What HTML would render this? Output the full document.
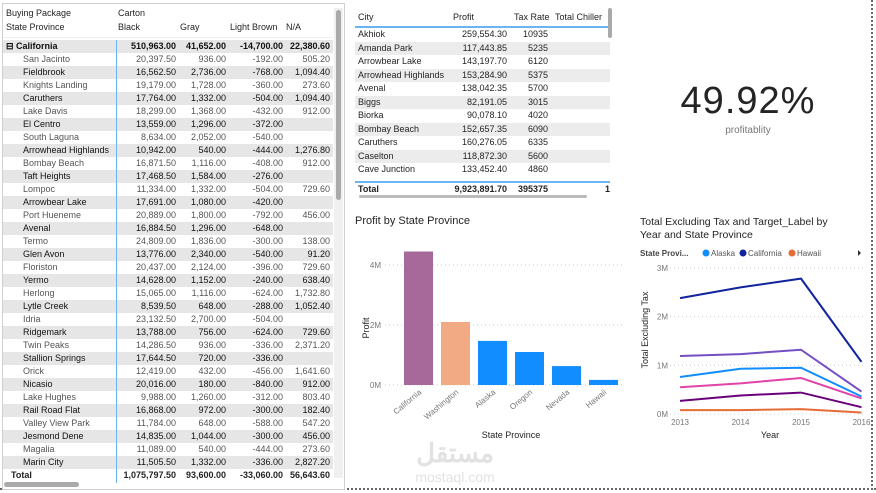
<!DOCTYPE html>
<html><head><meta charset="utf-8">
<style>
body{margin:0;width:876px;height:493px;background:#fff;position:relative;overflow:hidden;font-family:"Liberation Sans",sans-serif;color:#252423}
.abs{position:absolute}
#lt{left:2px;top:3px;width:341px;height:485px;border:1px solid #d0d0d0;background:#fff}
.r{position:absolute;left:0;width:330px;height:13px;font-size:9px;line-height:13px;white-space:nowrap}
.r span{position:absolute;top:0}
.c0{left:3px}.c1{right:157px}.c2{right:107px}.c3{right:50px}.c4{right:3px}
.tr{position:absolute;left:0;width:255px;height:13.5px;font-size:9px;line-height:13.5px;white-space:nowrap}
.tr span{position:absolute;top:0}
.t0{left:3px}.t1{right:103px}.t2{right:62px}
</style></head><body>
<div class="abs" style="left:0;top:488px;width:876px;height:0;border-top:2px dotted #666"></div>
<div class="abs" style="left:871px;top:0;width:0;height:490px;border-left:2px dotted #666"></div>

<div id="lt" class="abs"></div>

<div id="tt" class="abs" style="left:355px;top:5px;width:258px;height:192px;background:#fff"></div>

<div class="abs" style="left:640px;top:80px;width:216px;text-align:center;font-size:38px;letter-spacing:1px;color:#252423">49.92%</div>
<div class="abs" style="left:640px;top:125px;width:216px;text-align:center;font-size:10px;color:#777">profitablity</div>

<svg class="abs" style="left:345px;top:200px" width="285" height="290">
<text x="10" y="24" font-size="11" fill="#252423">Profit by State Province</text>
<g id="bars"></g>
<text x="-128" y="24" transform="rotate(-90)" font-size="9" fill="#252423" text-anchor="middle">Profit</text>
<text x="166" y="238" font-size="9" fill="#252423" text-anchor="middle">State Province</text>
<text x="110" y="262" font-size="26" font-weight="bold" fill="#e2e2e2" text-anchor="middle">مستقل</text>
<text x="110" y="282" font-size="14" fill="#e2e2e2" text-anchor="middle">mostaql.com</text>
</svg>

<svg class="abs" style="left:630px;top:205px" width="240" height="240">
<text x="10" y="20" font-size="10.5" fill="#252423">Total Excluding Tax and Target_Label by</text>
<text x="10" y="33" font-size="10.5" fill="#252423">Year and State Province</text>
<g font-size="8">
<text x="10" y="51" fill="#444" font-weight="bold">State Provi...</text>
<circle cx="76" cy="48" r="3.5" fill="#118dff"/><text x="81" y="51" fill="#555">Alaska</text>
<circle cx="113" cy="48" r="3.5" fill="#12239e"/><text x="118" y="51" fill="#555">California</text>
<circle cx="162" cy="48" r="3.5" fill="#e66c37"/><text x="167" y="51" fill="#555">Hawaii</text>
<path d="M228 45 l3 3 -3 3z" fill="#333"/>
</g>
<g id="lines"></g>
<text x="-125" y="18" transform="rotate(-90)" font-size="9" fill="#252423" text-anchor="middle">Total Excluding Tax</text>
<text x="140" y="233" font-size="9" fill="#252423" text-anchor="middle">Year</text>
</svg>

<script>
const ltRows=[["California","510,963.00","41,652.00","-14,700.00","22,380.60"],
["San Jacinto","20,397.50","936.00","-192.00","505.20"],["Fieldbrook","16,562.50","2,736.00","-768.00","1,094.40"],
["Knights Landing","19,179.00","1,728.00","-360.00","273.60"],["Caruthers","17,764.00","1,332.00","-504.00","1,094.40"],
["Lake Davis","18,299.00","1,368.00","-432.00","912.00"],["El Centro","13,559.00","1,296.00","-372.00",""],
["South Laguna","8,634.00","2,052.00","-540.00",""],["Arrowhead Highlands","10,942.00","540.00","-444.00","1,276.80"],
["Bombay Beach","16,871.50","1,116.00","-408.00","912.00"],["Taft Heights","17,468.50","1,584.00","-276.00",""],
["Lompoc","11,334.00","1,332.00","-504.00","729.60"],["Arrowbear Lake","17,691.00","1,080.00","-420.00",""],
["Port Hueneme","20,889.00","1,800.00","-792.00","456.00"],["Avenal","16,884.50","1,296.00","-648.00",""],
["Termo","24,809.00","1,836.00","-300.00","138.00"],["Glen Avon","13,776.00","2,340.00","-540.00","91.20"],
["Floriston","20,437.00","2,124.00","-396.00","729.60"],["Yermo","14,628.00","1,152.00","-240.00","638.40"],
["Herlong","15,065.00","1,116.00","-624.00","1,732.80"],["Lytle Creek","8,539.50","648.00","-288.00","1,052.40"],
["Idria","23,132.50","2,700.00","-504.00",""],["Ridgemark","13,788.00","756.00","-624.00","729.60"],
["Twin Peaks","14,286.50","936.00","-336.00","2,371.20"],["Stallion Springs","17,644.50","720.00","-336.00",""],
["Orick","12,419.00","432.00","-456.00","1,641.60"],["Nicasio","20,016.00","180.00","-840.00","912.00"],
["Lake Hughes","9,988.00","1,260.00","-312.00","803.40"],["Rail Road Flat","16,868.00","972.00","-300.00","182.40"],
["Valley View Park","11,784.00","648.00","-588.00","547.20"],["Jesmond Dene","14,835.00","1,044.00","-300.00","456.00"],
["Magalia","11,089.00","540.00","-444.00","273.60"],["Marin City","11,505.50","1,332.00","-336.00","2,827.20"]];
const ttRows=[["Akhiok","259,554.30","10935"],["Amanda Park","117,443.85","5235"],["Arrowbear Lake","143,197.70","6120"],
["Arrowhead Highlands","153,284.90","5375"],["Avenal","138,042.35","5700"],["Biggs","82,191.05","3015"],["Biorka","90,078.10","4020"],
["Bombay Beach","152,657.35","6090"],["Caruthers","160,276.05","6335"],["Caselton","118,872.30","5600"],["Cave Junction","133,452.40","4860"]];
const barCats=["California","Washington","Alaska","Oregon","Nevada","Hawaii"];
const barVals=[4.45,2.1,1.47,1.1,0.63,0.17];
const barTicks=[0,2,4];
const barColors=["#a66999","#f2aa85","#118dff","#118dff","#118dff","#118dff"];
const years=["2013","2014","2015","2016"];
const lineTicks=[0,1,2,3];
const sCalifornia=[2.38,2.6,2.78,1.07];
const sPurple=[1.19,1.23,1.32,0.46];
const sAlaska=[0.76,0.93,0.95,0.36];
const sPink=[0.55,0.63,0.74,0.32];
const sDark=[0.27,0.38,0.44,0.14];
const sHawaii=[0.08,0.08,0.1,0.03];

const NS="http://www.w3.org/2000/svg";
function mk(tag,attrs,parent){const e=document.createElementNS(NS,tag);for(const k in attrs)e.setAttribute(k,attrs[k]);parent.appendChild(e);return e;}

// left matrix
const lt=document.getElementById('lt');
let h='<div class="r" style="top:3px;height:14px"><span class="c0">Buying Package</span><span style="left:115px">Carton</span></div>';
h+='<div class="r" style="top:17px;height:16px;border-bottom:1px solid #eee"><span class="c0">State Province</span><span style="left:115px">Black</span><span style="left:177px">Gray</span><span style="left:227px">Light Brown</span><span style="left:283px">N/A</span></div>';
lt.innerHTML=h;
ltRows.forEach((r,i)=>{const d=document.createElement('div');d.className='r';
d.style.top=(36+i*13)+'px';d.style.background=i%2==0?'#e6e6e6':'#fff';
if(i%2==0)d.style.color='#111';else d.style.color='#555';


const bold=i==0?'font-weight:bold;':'';
d.innerHTML='<span class="c0" style="'+bold+(i==0?'':'left:20px')+'">'+(i==0?'⊟ ':'')+r[0]+'</span><span class="c1" style="'+bold+'">'+r[1]+'</span><span class="c2" style="'+bold+'">'+r[2]+'</span><span class="c3" style="'+bold+'">'+r[3]+'</span><span class="c4" style="'+bold+'">'+r[4]+'</span>';
lt.appendChild(d);});
const tot=document.createElement('div');tot.className='r';tot.style.top='465px';tot.style.fontWeight='bold';


tot.innerHTML='<span class="c0" style="left:8px">Total</span><span class="c1">1,075,797.50</span><span class="c2">93,600.00</span><span class="c3">-33,060.00</span><span class="c4">56,643.60</span>';
lt.appendChild(tot);
const vl=document.createElement('div');vl.className='abs';vl.style.cssText='left:113px;top:36px;width:1px;height:443px;background:#6ab4f5';


lt.appendChild(vl);
const sb=document.createElement('div');sb.className='abs';sb.style.cssText='left:331px;top:4px;width:9px;height:470px;background:#f0f0f0';


sb.innerHTML='<div style="position:absolute;left:2px;top:2px;width:5px;height:190px;background:#aaa;border-radius:3px"></div>';
lt.appendChild(sb);
const hs=document.createElement('div');hs.className='abs';hs.style.cssText='left:1px;top:478px;width:75px;height:5px;background:#aaa;border-radius:3px';


lt.appendChild(hs);

// top table
const tt=document.getElementById('tt');
let th='<div class="tr" style="top:3px;height:18px;line-height:18px;border-bottom:2px solid #6ab4f5"><span class="t0">City</span><span style="left:98px">Profit</span><span style="left:159px">Tax Rate</span><span style="left:200px">Total Chiller</span></div>';
tt.innerHTML=th;
ttRows.forEach((r,i)=>{const d=document.createElement('div');d.className='tr';
d.style.top=(23+i*13.5)+'px';d.style.background=i%2==1?'#ececec':'#fff';


d.innerHTML='<span class="t0">'+r[0]+'</span><span class="t1">'+r[1]+'</span><span class="t2">'+r[2]+'</span>';
tt.appendChild(d);});
const tt2=document.createElement('div');tt2.className='tr';tt2.style.cssText='top:176px;font-weight:bold;border-top:2px solid #6ab4f5;background:#fff';


tt2.innerHTML='<span class="t0">Total</span><span class="t1">9,923,891.70</span><span class="t2">395375</span><span style="right:0">1</span>';
tt.appendChild(tt2);
const tsb=document.createElement('div');tsb.className='abs';tsb.style.cssText='left:253px;top:3px;width:4px;height:30px;background:#aaa;border-radius:2px';


tt.appendChild(tsb);
const tsh=document.createElement('div');tsh.className='abs';tsh.style.cssText='left:4px;top:190px;width:228px;height:3px;background:#bbb;border-radius:2px';


tt.appendChild(tsh);

// bar chart
const bg=document.getElementById('bars');
const by=v=>185-v*30, bx=i=>59+i*37;
barTicks.forEach(t=>{mk('line',{x1:40,x2:280,y1:by(t),y2:by(t),stroke:'#ccc','stroke-dasharray':'1,3'},bg);
const tx=mk('text',{x:36,y:by(t)+3,'font-size':8,fill:'#777','text-anchor':'end'},bg);tx.textContent=t+'M';});
barVals.forEach((v,i)=>{const r=mk('rect',{x:bx(i),y:by(v),width:29,height:v*30,fill:barColors[i]},bg);


const t=mk('text',{x:bx(i)+18,y:193,'font-size':8,fill:'#777','text-anchor':'end',transform:'rotate(-40 '+(bx(i)+18)+' 193)'},bg);t.textContent=barCats[i];});

// line chart
const lg=document.getElementById('lines');
const ly=v=>209-v*48.7, lx=i=>50+i*60.5;
lineTicks.forEach(t=>{mk('line',{x1:40,x2:235,y1:ly(t),y2:ly(t),stroke:'#ccc','stroke-dasharray':'1,3'},lg);
const tx=mk('text',{x:38,y:ly(t)+3,'font-size':8,fill:'#777','text-anchor':'end'},lg);tx.textContent=t+'M';});
years.forEach((y,i)=>{const t=mk('text',{x:lx(i),y:220,'font-size':8,fill:'#777','text-anchor':'middle'},lg);t.textContent=y;});
[[sCalifornia,'#12239e','california'],[sPurple,'#744ec2','series-purple'],[sAlaska,'#118dff','alaska'],[sPink,'#e044a7','series-pink'],[sDark,'#6b007b','series-dark'],[sHawaii,'#e66c37','hawaii']].forEach(s=>{
const p=mk('polyline',{points:s[0].map((v,i)=>lx(i)+','+ly(v)).join(' '),fill:'none',stroke:s[1],'stroke-width':2},lg);

});
</script>
</body></html>
